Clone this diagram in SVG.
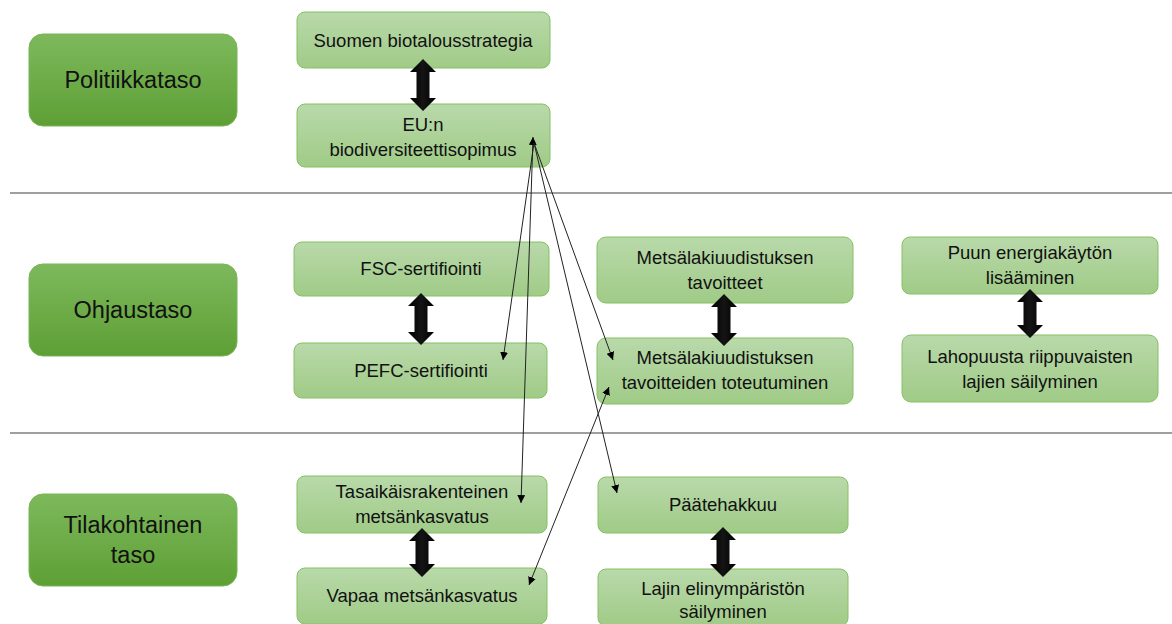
<svg xmlns="http://www.w3.org/2000/svg" width="1172" height="624" viewBox="0 0 1172 624">
<defs>
<linearGradient id="gNode" x1="0" y1="0" x2="0" y2="1">
<stop offset="0" stop-color="#b9d9aa"/>
<stop offset="1" stop-color="#a0cb87"/>
</linearGradient>
<linearGradient id="gLevel" x1="0" y1="0" x2="0" y2="1">
<stop offset="0" stop-color="#7db95c"/>
<stop offset="1" stop-color="#5e9f35"/>
</linearGradient>
<linearGradient id="gArrow" x1="0" y1="0" x2="1" y2="0">
<stop offset="0" stop-color="#000"/>
<stop offset="0.5" stop-color="#141414"/>
<stop offset="1" stop-color="#000"/>
</linearGradient>
<marker id="ah" viewBox="0 0 10 10" refX="10" refY="5" markerWidth="8" markerHeight="8" markerUnits="userSpaceOnUse" orient="auto-start-reverse">
<path d="M0,0 L10,5 L0,10 Z" fill="#000"/>
</marker>
<style>
.node{fill:url(#gNode);stroke:#86c063;stroke-width:1}
.level{fill:url(#gLevel);stroke:#79b556;stroke-width:1}
.t{font-family:"Liberation Sans",Arial,sans-serif;font-size:18.5px;fill:#111;text-anchor:middle}
.lt{font-family:"Liberation Sans",Arial,sans-serif;font-size:23.5px;fill:#111;text-anchor:middle}
.sep{stroke:#7f7f7f;stroke-width:1.5}
.dbl{fill:url(#gArrow)}
.thin{stroke:#222;stroke-width:1;fill:none;marker-end:url(#ah)}
</style>
</defs>

<g id="separators">
<line class="sep" x1="10" y1="193" x2="1172" y2="193"/>
<line class="sep" x1="10" y1="433" x2="1172" y2="433"/>
</g>

<g id="level-politiikkataso">
<rect class="level" x="29" y="34" width="208" height="92" rx="14"/>
<text class="lt" x="133" y="88">Politiikkataso</text>
</g>
<g id="level-ohjaustaso">
<rect class="level" x="29" y="264" width="208" height="92" rx="14"/>
<text class="lt" x="133" y="318">Ohjaustaso</text>
</g>
<g id="level-tilakohtainen">
<rect class="level" x="29" y="494" width="208" height="92" rx="14"/>
<text class="lt" x="133" y="533">Tilakohtainen</text>
<text class="lt" x="133" y="563">taso</text>
</g>

<g id="n-suomen">
<rect class="node" x="297" y="12" width="253" height="56" rx="8"/>
<text class="t" x="423" y="47">Suomen biotalousstrategia</text>
</g>
<g id="n-eu">
<rect class="node" x="297" y="104" width="253" height="63" rx="8"/>
<text class="t" x="423" y="131">EU:n</text>
<text class="t" x="423" y="156">biodiversiteettisopimus</text>
</g>
<g id="n-fsc">
<rect class="node" x="294" y="242" width="255" height="54" rx="8"/>
<text class="t" x="421" y="275">FSC-sertifiointi</text>
</g>
<g id="n-pefc">
<rect class="node" x="294" y="343" width="253" height="55" rx="8"/>
<text class="t" x="421" y="377">PEFC-sertifiointi</text>
</g>
<g id="n-metsalaki-tavoitteet">
<rect class="node" x="597" y="237" width="256" height="66" rx="9"/>
<text class="t" x="725" y="264">Metsälakiuudistuksen</text>
<text class="t" x="725" y="289">tavoitteet</text>
</g>
<g id="n-metsalaki-toteutuminen">
<rect class="node" x="597" y="338" width="256" height="66" rx="9"/>
<text class="t" x="725" y="364">Metsälakiuudistuksen</text>
<text class="t" x="725" y="389">tavoitteiden toteutuminen</text>
</g>
<g id="n-puun">
<rect class="node" x="902" y="237" width="256" height="57" rx="8"/>
<text class="t" x="1030" y="259">Puun energiakäytön</text>
<text class="t" x="1030" y="284">lisääminen</text>
</g>
<g id="n-lahopuu">
<rect class="node" x="902" y="335" width="256" height="67" rx="9"/>
<text class="t" x="1030" y="363">Lahopuusta riippuvaisten</text>
<text class="t" x="1030" y="388">lajien säilyminen</text>
</g>
<g id="n-tasaikais">
<rect class="node" x="297" y="476" width="250" height="57" rx="8"/>
<text class="t" x="422" y="498">Tasaikäisrakenteinen</text>
<text class="t" x="422" y="523">metsänkasvatus</text>
</g>
<g id="n-vapaa">
<rect class="node" x="297" y="568" width="250" height="56" rx="8"/>
<text class="t" x="422" y="602">Vapaa metsänkasvatus</text>
</g>
<g id="n-paatehakkuu">
<rect class="node" x="598" y="477" width="250" height="56" rx="8"/>
<text class="t" x="723" y="511">Päätehakkuu</text>
</g>
<g id="n-lajin">
<rect class="node" x="598" y="569" width="250" height="57" rx="8"/>
<text class="t" x="723" y="595">Lajin elinympäristön</text>
<text class="t" x="723" y="618">säilyminen</text>
</g>

<g id="connectors">
<path class="dbl" d="M423,59 L436,72 L429.5,72 L429.5,98 L436,98 L423,111 L410,98 L416.5,98 L416.5,72 L410,72 Z"/>
<path class="dbl" d="M421,293 L434,306 L427.5,306 L427.5,332 L434,332 L421,345 L408,332 L414.5,332 L414.5,306 L408,306 Z"/>
<path class="dbl" d="M724,294 L737,307 L730.5,307 L730.5,333 L737,333 L724,346 L711,333 L717.5,333 L717.5,307 L711,307 Z"/>
<path class="dbl" d="M1030,289 L1043,302 L1036.5,302 L1036.5,325 L1043,325 L1030,338 L1017,325 L1023.5,325 L1023.5,302 L1017,302 Z"/>
<path class="dbl" d="M422,528 L435,541 L428.5,541 L428.5,564 L435,564 L422,577 L409,564 L415.5,564 L415.5,541 L409,541 Z"/>
<path class="dbl" d="M723,527 L736,540 L729.5,540 L729.5,564 L736,564 L723,577 L710,564 L716.5,564 L716.5,540 L710,540 Z"/>
<line class="thin" x1="534" y1="143" x2="503" y2="360"/>
<line class="thin" x1="533" y1="137" x2="521" y2="503" marker-start="url(#ah)"/>
<line class="thin" x1="534" y1="143" x2="613" y2="360"/>
<line class="thin" x1="534" y1="143" x2="617" y2="493"/>
<line class="thin" x1="529" y1="585" x2="609" y2="387" marker-start="url(#ah)"/>
</g>
</svg>
